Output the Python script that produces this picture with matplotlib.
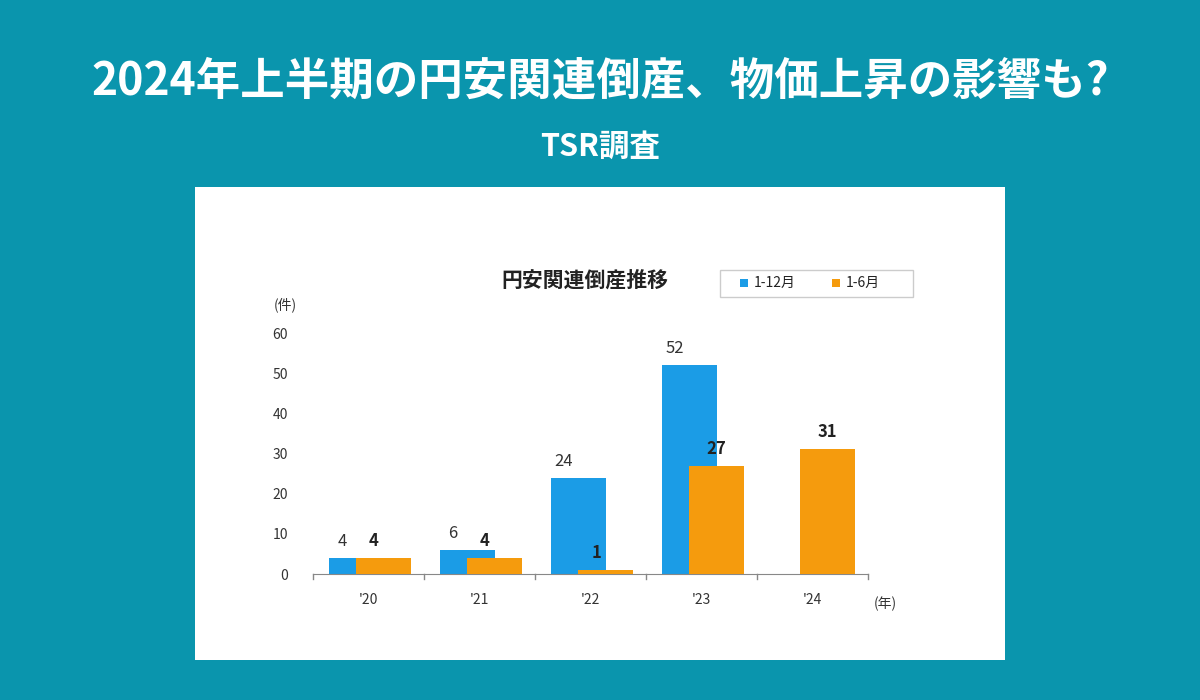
import matplotlib.pyplot as plt
from matplotlib.patches import Rectangle

plt.rcParams['font.family'] = ['Noto Sans CJK JP', 'DejaVu Sans']

years = ["'20", "'21", "'22", "'23", "'24"]
full_year = [4, 6, 24, 52, None]
first_half = [4, 4, 1, 27, 31]

teal = '#0a95ad'
blue = '#1b9ce6'
orange = '#f59b0d'

fig = plt.figure(figsize=(12, 7), dpi=100, facecolor=teal)
fig.text(0.5, 1 - 82/700, '2024年上半期の円安関連倒産、物価上昇の影響も?', ha='center', va='center',
         fontsize=32, fontweight='bold', color='white')
fig.text(0.5, 1 - 147/700, 'TSR調査', ha='center', va='center', fontsize=22, fontweight='bold', color='white')

# white panel
fig.patches.append(Rectangle((195/1200, 1 - 660/700), 810/1200, 473/700, transform=fig.transFigure,
                             facecolor='white', edgecolor='none', zorder=0))

ax = fig.add_axes([313/1200, 126/700, 555/1200, 241/700])
ax.set_zorder(5)
ax.set_facecolor('none')
ax.set_xlim(0, 5)
ax.set_ylim(0, 60)
for i in range(5):
    if full_year[i] is not None:
        ax.bar(i + 0.39, full_year[i], width=0.5, color=blue, zorder=2)
        ax.text(i + 0.26, full_year[i] + 2, str(full_year[i]), ha='center', va='bottom',
                fontsize=12, color='#333333')
    ax.bar(i + 0.635, first_half[i], width=0.5, color=orange, zorder=3)
    ax.text(i + 0.635 if full_year[i] is None or i > 2 else i + 0.55, first_half[i] + 2,
            str(first_half[i]), ha='center', va='bottom', fontsize=12, fontweight='bold', color='#222222')

ax.set_xticks([i + 0.5 for i in range(5)])
ax.set_xticklabels(years, fontsize=10, color='#333333')
ax.set_yticks(range(0, 61, 10))
ax.tick_params(axis='y', length=0, labelsize=10, labelcolor='#333333', pad=18)
ax.tick_params(axis='x', length=0, pad=14)
for s in ['top', 'right', 'left']:
    ax.spines[s].set_visible(False)
ax.spines['bottom'].set_color('#888888')
for i in range(6):
    ax.plot([i, i], [0, -1.2], color='#888888', lw=1, clip_on=False)

fig.text(285/1200, 1 - 305/700, '(件)', ha='center', va='center', fontsize=10, color='#333333')
fig.text(885/1200, 1 - 604/700, '(年)', ha='center', va='center', fontsize=10, color='#333333')
fig.text(585/1200, 1 - 280/700, '円安関連倒産推移', ha='center', va='center', fontsize=15,
         fontweight='bold', color='#222222')

# legend
fig.patches.append(Rectangle((720/1200, 1 - 297/700), 193/1200, 27/700, transform=fig.transFigure,
                             facecolor='white', edgecolor='#cccccc', lw=1, zorder=1))
fig.patches.append(Rectangle((740/1200, 1 - 287/700), 8/1200, 8/700, transform=fig.transFigure,
                             facecolor=blue, zorder=2))
fig.text(754/1200, 1 - 283/700, '1-12月', va='center', fontsize=10, color='#222222')
fig.patches.append(Rectangle((832/1200, 1 - 287/700), 8/1200, 8/700, transform=fig.transFigure,
                             facecolor=orange, zorder=2))
fig.text(846/1200, 1 - 283/700, '1-6月', va='center', fontsize=10, color='#222222')

fig.savefig('out.png', facecolor=teal)
